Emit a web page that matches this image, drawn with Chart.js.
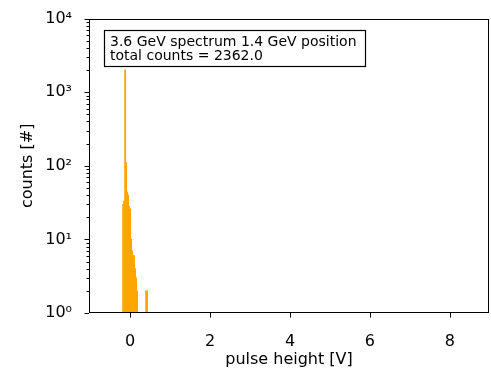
<!DOCTYPE html>
<html>
<head>
<meta charset="utf-8">
<script src="https://cdn.jsdelivr.net/npm/chart.js@4/dist/chart.umd.min.js"></script>
<style>
  body { margin: 0; background: #fff; }
  #wrap { width: 491px; height: 371px; }
</style>
</head>
<body>
<div id="wrap"><canvas id="mycanvas"></canvas></div>
<script>
// histogram bins (bin centre in V) and counts per bin
var binCenters = [-0.175, -0.15, -0.125, -0.1, -0.075, -0.05, -0.025, 0, 0.025, 0.05, 0.075, 0.1, 0.125, 0.15, 0.175, 0.4, 0.425];
var binCounts  = [30, 33, 2009, 110, 44, 40, 28, 26, 10, 7, 6, 6, 4, 3, 2, 2, 2];

var xTicks = [0, 2, 4, 6, 8];
var yMajorTicks = [1, 10, 100, 1000, 10000];
var yMinorTicks = [2, 3, 4, 5, 6, 7, 8, 9, 20, 30, 40, 50, 60, 70, 80, 90,
                   200, 300, 400, 500, 600, 700, 800, 900, 2000, 3000, 4000, 5000, 6000, 7000, 8000, 9000];
var supers = ['\u2070', '\u00b9', '\u00b2', '\u00b3', '\u2074'];

var infoLines = ['3.6 GeV spectrum 1.4 GeV position', 'total counts = 2362.0'];

var FONT = 'DejaVu Sans';

// frame, tick marks and the info box, matplotlib style
var axesDecor = {
	id: 'axesDecor',
	afterDraw: function(chart)
	{
		var ctx = chart.ctx;
		var a = chart.chartArea;
		var x = chart.scales.x;
		var y = chart.scales.y;
		ctx.save();
		ctx.strokeStyle = '#000';
		ctx.lineWidth = 1;

		ctx.strokeRect(Math.round(a.left) + 0.5, Math.round(a.top) + 0.5,
			Math.round(a.width) - 1, Math.round(a.height) - 1);

		ctx.beginPath();
		x.ticks.forEach(function(t) {
			var px = Math.round(x.getPixelForValue(t.value)) + 0.5;
			ctx.moveTo(px, a.bottom);
			ctx.lineTo(px, a.bottom + 4.5);
		});
		y.ticks.forEach(function(t) {
			var py = Math.round(y.getPixelForValue(t.value)) + 0.5;
			var len = t.major ? 4.5 : 2.5;
			ctx.moveTo(a.left - len, py);
			ctx.lineTo(a.left, py);
		});
		ctx.stroke();

		// text box in the upper left
		ctx.font = '14px "' + FONT + '"';
		var w = 0;
		infoLines.forEach(function(s) { w = Math.max(w, ctx.measureText(s).width); });
		var bx = Math.round(a.left) + 15.5;
		var by = Math.round(a.top) + 11.5;
		var bw = Math.round(w) + 14;
		var bh = 36;
		ctx.fillStyle = '#fff';
		ctx.fillRect(bx, by, bw, bh);
		ctx.lineWidth = 1.2;
		ctx.strokeRect(bx, by, bw, bh);
		ctx.fillStyle = '#000';
		ctx.textBaseline = 'alphabetic';
		ctx.fillText(infoLines[0], bx + 5.5, by + 15);
		ctx.fillText(infoLines[1], bx + 5.5, by + 29.3);
		ctx.restore();
	}
};

var points = [];
for (var i in binCenters)
{
	points.push({x: binCenters[i], y: binCounts[i]});
}

var chartdata =
{
	datasets:
	[{
		label: 'counts',
		data: points,
		backgroundColor: '#ffa500',
		borderWidth: 0,
		inflateAmount: 0.4,
		barPercentage: 1,
		categoryPercentage: 1
	}]
};

var ctx = document.getElementById('mycanvas');

var barGraph = new Chart(ctx, {
	type: 'bar',
	data: chartdata,
	plugins: [axesDecor],
	options: {
		responsive: true,
		maintainAspectRatio: false,
		animation: false,
		layout: { padding: { top: 14, right: 2, left: 0, bottom: 0 } },
		plugins: {
			legend: { display: false },
			tooltip: { enabled: false }
		},
		scales: {
			x: {
				type: 'linear',
				min: -1.03,
				max: 8.98,
				offset: false,
				grid: { display: false },
				border: { display: false },
				afterBuildTicks: function(scale) {
					scale.ticks = xTicks.map(function(v) { return {value: v}; });
				},
				afterFit: function(scale) { scale.height = 58; },
				ticks: {
					color: '#000',
					padding: 11,
					maxRotation: 0,
					font: { family: FONT, size: 16 },
					callback: function(v) { return String(v); }
				},
				title: {
					display: true,
					text: 'pulse height [V]',
					color: '#000',
					padding: { top: 0, bottom: 2 },
					font: { family: FONT, size: 16 }
				}
			},
			y: {
				type: 'logarithmic',
				min: 1,
				max: 10000,
				grid: { display: false },
				border: { display: false },
				afterBuildTicks: function(scale) {
					var t = [];
					yMajorTicks.forEach(function(v) { t.push({value: v, major: true}); });
					yMinorTicks.forEach(function(v) { t.push({value: v, major: false}); });
					scale.ticks = t;
				},
				afterFit: function(scale) { scale.width = 89; },
				ticks: {
					color: '#000',
					padding: 9,
					autoSkip: false,
					font: { family: FONT, size: 16 },
					callback: function(v) {
						var k = yMajorTicks.indexOf(v);
						return k >= 0 ? '10' + supers[k] : '';
					}
				},
				title: {
					display: true,
					text: 'counts [#]',
					color: '#000',
					padding: { top: 18, bottom: 0 },
					font: { family: FONT, size: 16 }
				}
			}
		}
	}
});
</script>
</body>
</html>
